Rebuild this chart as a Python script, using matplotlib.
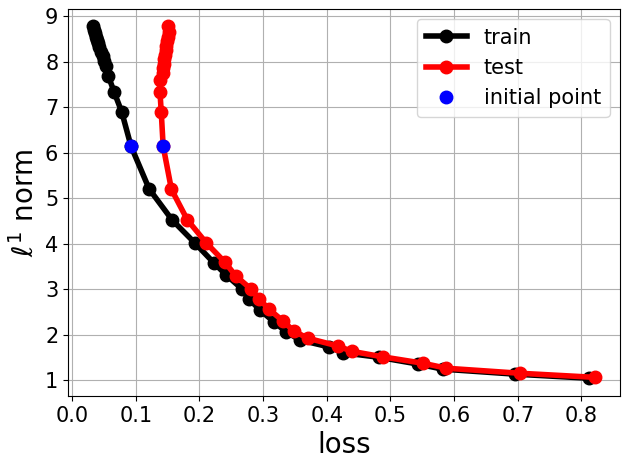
import matplotlib
matplotlib.use("Agg")
import matplotlib.pyplot as plt

# train curve (loss, l1 norm)
train_loss = [0.033, 0.034, 0.036, 0.037, 0.039, 0.041, 0.043, 0.046, 0.048, 0.050,
              0.053, 0.057, 0.066, 0.078, 0.0925, 0.121, 0.157, 0.193, 0.223, 0.242,
              0.267, 0.278, 0.295, 0.317, 0.336, 0.358, 0.403, 0.426, 0.482, 0.544,
              0.582, 0.696, 0.812]
train_norm = [8.77, 8.70, 8.62, 8.55, 8.47, 8.40, 8.32, 8.22, 8.12, 8.02,
              7.90, 7.68, 7.33, 6.89, 6.14, 5.20, 4.52, 4.01, 3.57, 3.31,
              3.00, 2.78, 2.54, 2.28, 2.06, 1.88, 1.73, 1.60, 1.50, 1.35,
              1.24, 1.13, 1.04]

# test curve
test_loss = [0.150, 0.152, 0.150, 0.149, 0.148, 0.147, 0.146, 0.145, 0.144, 0.143,
             0.142, 0.138, 0.138, 0.140, 0.143, 0.156, 0.181, 0.211, 0.240, 0.257,
             0.281, 0.294, 0.309, 0.331, 0.348, 0.370, 0.417, 0.440, 0.488, 0.551,
             0.588, 0.703, 0.821]
test_norm = [8.77, 8.66, 8.55, 8.45, 8.35, 8.25, 8.15, 8.05, 7.95, 7.85,
             7.75, 7.60, 7.33, 6.89, 6.14, 5.19, 4.52, 4.01, 3.59, 3.29,
             3.00, 2.78, 2.56, 2.30, 2.08, 1.92, 1.75, 1.63, 1.51, 1.37,
             1.26, 1.15, 1.06]

# initial points
init_loss = [0.0925, 0.143]
init_norm = [6.14, 6.14]

fig, ax = plt.subplots(figsize=(6.3, 4.69), dpi=100)
ax.plot(train_loss, train_norm, color="black", marker="o", lw=4, ms=9, label="train")
ax.plot(test_loss, test_norm, color="red", marker="o", lw=4, ms=9, label="test")
ax.plot(init_loss, init_norm, "o", color="blue", ms=9, ls="none", label="initial point", zorder=5)

ax.set_xlabel("loss", fontsize=20)
ax.set_ylabel(r"$\ell^1$ norm", fontsize=20)
ax.tick_params(labelsize=15)
ax.set_xticks([0.0, 0.1, 0.2, 0.3, 0.4, 0.5, 0.6, 0.7, 0.8])
ax.set_yticks(range(1, 10))
ax.grid(True)
ax.legend(fontsize=15, loc="upper right")

# axes box placed to match the reference
plt.subplots_adjust(left=0.108, right=0.984, bottom=0.156, top=0.981)
plt.savefig("out.png")
